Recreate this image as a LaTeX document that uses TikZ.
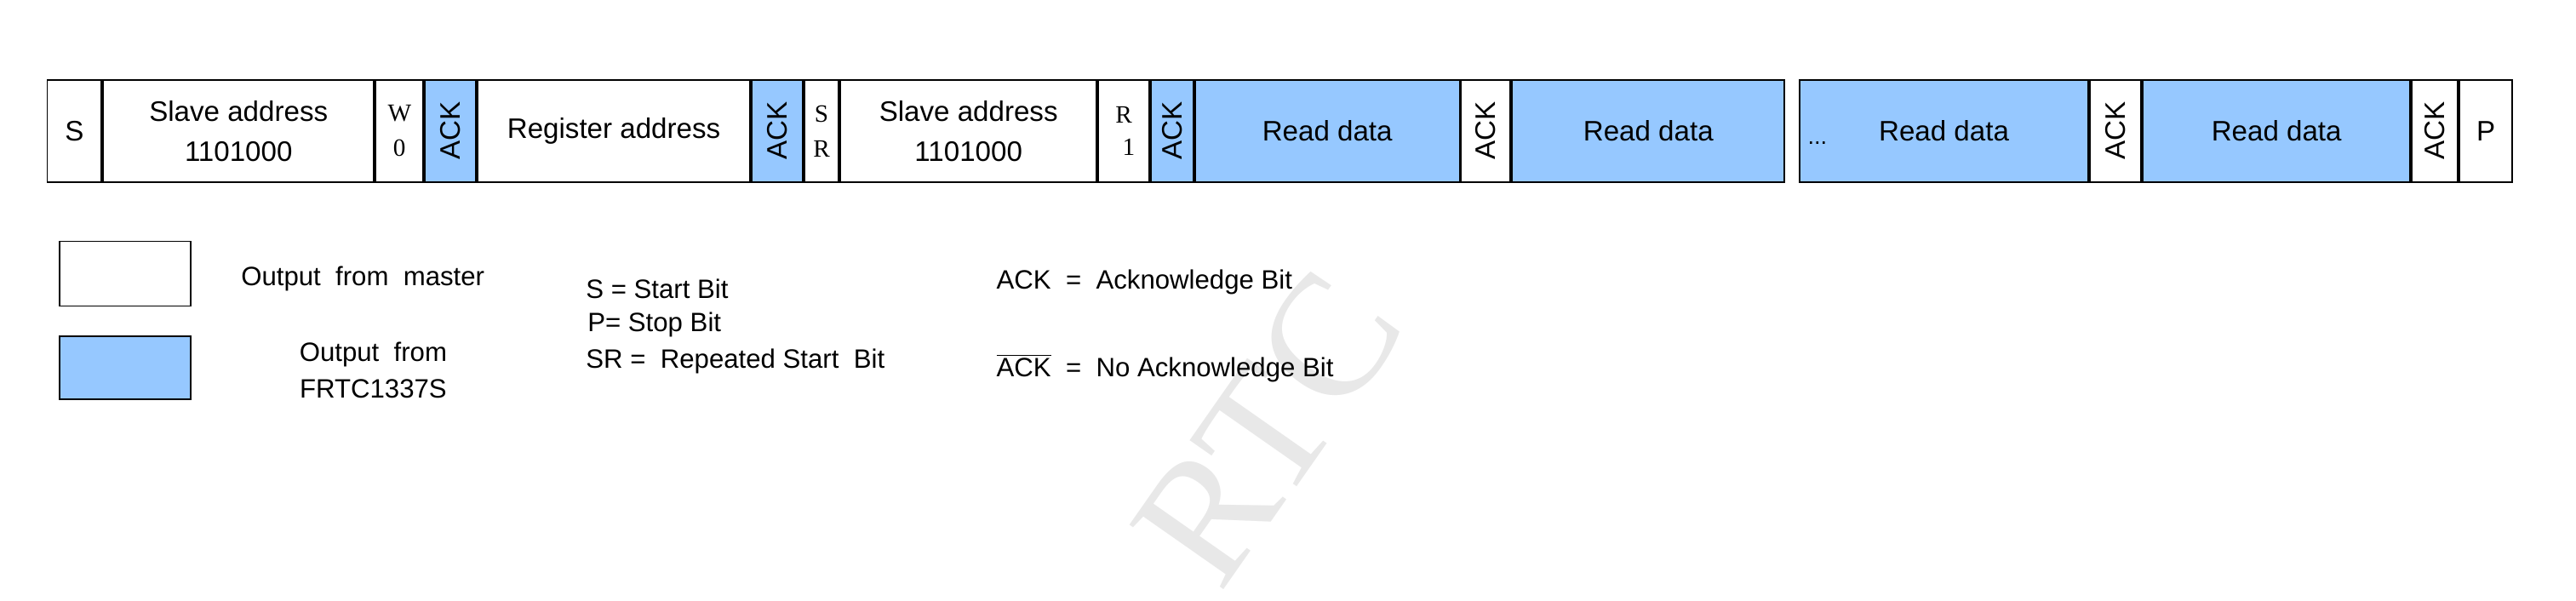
\documentclass[tikz,border=0pt]{standalone}
\usepackage{fontspec}
\setmainfont{Liberation Sans}
\newfontfamily\tms{Liberation Serif}
\usepackage{xcolor}
\definecolor{slaveblue}{RGB}{150,200,255}
\tikzset{
  cell/.style={draw, line width=1pt, inner sep=0pt, minimum height=62pt, align=center,
    font=\fontsize{17}{24}\selectfont},
  ackv/.style={rotate=90, font=\fontsize{17}{20}\selectfont},
  bitch/.style={font=\tms\fontsize{15}{21}\selectfont, align=center},
  legend/.style={font=\fontsize{16}{22}\selectfont, anchor=west}
}
\begin{document}
\begin{tikzpicture}[x=1pt,y=-1pt]
\useasboundingbox (0,0) rectangle (1553,362);
\begin{scope}[x=0.99pt, xshift=0.28pt]
% watermark
\node[text=gray!18, rotate=55, font=\tms\fontsize{105}{105}\selectfont] (wm) at (772,258) {RTC};
% frame cells
\foreach \a/\b/\f/\t/\n in {28/62/white/S/s, 62/228/white/{Slave address\\1101000}/sa1,
  228/258/white//w, 258/290/slaveblue//a1, 290/457/white/Register address/ra,
  457/489/slaveblue//a2, 489/511/white//sr, 511/668/white/{Slave address\\1101000}/sa2,
  668/700/white//r, 700/727/slaveblue//a3, 727/889/slaveblue/Read data/d1,
  889/920/white//a4, 920/1087/slaveblue/Read data/d2, 1095/1272/slaveblue/Read data/d3,
  1272/1304/white//a5, 1304/1468/slaveblue/Read data/d4, 1468/1497/white//a6,
  1497/1530/white/P/p}
  \node[cell, fill=\f, minimum width={(\b-\a-1)*0.99pt}] (\n) at ({(\a+\b)/2},79) {\t};
\node[font=\fontsize{14}{14}\selectfont, anchor=west] (dots) at (1097,86) {...};
% ack labels
\foreach \n in {a1,a2,a3,a4,a5,a6}
  \node[ackv] at (\n) {ACK};
% R/W and repeated start
\node[bitch] (wbit) at (w.center) {W\\0};
\node[bitch] (srbit) at (sr.center) {S\\R};
\node[bitch] (rbit) at (r.center) {R\\[-2pt]\hspace*{6pt}1};
% legend
\node[draw, line width=1pt, minimum width=79pt, minimum height=39pt] (mbox) at (76,165) {};
\node[draw, line width=1pt, fill=slaveblue, minimum width=79pt, minimum height=38pt] (sbox) at (76,221.5) {};
\node[legend] (mtxt) at (143,168) {Output~ from~ master};
\node[legend, align=center, anchor=center] (stxt) at (227,223) {Output~ from\\ FRTC1337S};
\node[legend] (sdef) at (353,174) {S = Start Bit};
\node[legend] (pdef) at (354,196) {P= Stop Bit};
\node[legend] (srdef) at (353,218) {SR = ~Repeated Start~ Bit};
\node[legend] (ackdef) at (603,170) {ACK ~= ~Acknowledge Bit};
\node[legend] (nackdef) at (603,222) {$\overline{\hbox{ACK}}$ ~= ~No Acknowledge Bit};
\end{scope}
\end{tikzpicture}
\end{document}
